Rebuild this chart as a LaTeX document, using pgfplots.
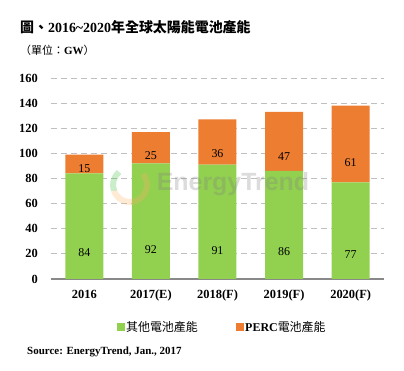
\documentclass[border=0pt]{standalone}
\usepackage{fontspec}
\usepackage{pgfplots}
\usepackage{pgfplotstable}
\pgfplotsset{compat=1.18}
\setmainfont{Liberation Serif}
\setsansfont{Liberation Sans}
\newfontfamily\cjk{Noto Sans CJK TC}
\definecolor{cgreen}{HTML}{92D050}
\definecolor{corange}{HTML}{ED7D31}
\definecolor{cgrid}{HTML}{BFBFBF}
\definecolor{caxis}{HTML}{898989}
\pgfplotstableread{
x g o
0 84 15
1 92 25
2 91 36
3 86 47
4 77 61
}\data
\begin{document}
\begin{tikzpicture}
\useasboundingbox (-51bp,-92bp) rectangle (353bp,279bp);
\begin{axis}[
  at={(0,0)}, anchor=south west,
  scale only axis, width=333bp, height=201bp,
  xmin=-0.5, xmax=4.5, ymin=0, ymax=160,
  ybar stacked, bar width=38bp,
  axis x line*=bottom, axis y line*=left,
  x axis line style={draw=caxis, line width=2bp},
  y axis line style={draw=none},
  major tick length=0pt,
  xtick={0,1,2,3,4},
  xticklabels={2016,2017(E),2018(F),2019(F),2020(F)},
  ytick={0,20,...,160},
  ymajorgrids,
  grid style={cgrid, dash pattern=on 6bp off 4bp, line width=0.8bp},
  /pgf/number format/assume math mode=true,
  tick label style={font=\bfseries\fontsize{12.5}{14}\selectfont, text=black},
  yticklabel style={anchor=east, inner sep=0pt, xshift=-13bp},
  xticklabel style={anchor=north, inner sep=0pt, yshift=-11bp},
  legend style={at={(0.514,-0.239)}, anchor=center, draw=none, fill=none,
    legend columns=2, font=\fontsize{12}{14}\selectfont,
    /tikz/every even column/.append style={column sep=36bp}},
  point meta=explicit,
]
\addplot[fill=cgreen, draw=none, forget plot,
  visualization depends on={\thisrow{g}\as\myv},
  nodes near coords,
  every node near coord/.append style={anchor=center, yshift={-\myv*0.3135bp}, font=\fontsize{12}{14}\selectfont, text=black}]
  table[x=x, y=g, meta=g]{\data};
\addplot[fill=corange, draw=none, forget plot,
  visualization depends on={\thisrow{o}\as\myv},
  nodes near coords,
  every node near coord/.append style={anchor=center, yshift={-\myv*0.3135bp}, font=\fontsize{12}{14}\selectfont, text=black}]
  table[x=x, y=o, meta=o]{\data};
\addlegendimage{legend image code/.code={\fill[cgreen] (0bp,-3.5bp) rectangle (7bp,3.5bp);}}
\addlegendentry{{\cjk 其他電池產能}}
\addlegendimage{legend image code/.code={\fill[corange] (0bp,-3.5bp) rectangle (7bp,3.5bp);}}
\addlegendentry{\textbf{PERC}{\cjk 電池產能}}
\end{axis}
% watermark
\begin{scope}[opacity=0.28]
\draw[line width=6bp, orange!60] (79bp,94bp) ++(200:17bp) arc (200:400:17bp);
\draw[line width=6bp, green!50!gray] (79bp,94bp) ++(200:17bp) arc (200:130:17bp);
\node[anchor=center, inner sep=0pt, text=gray, font=\sffamily\bfseries\fontsize{25}{28}\selectfont] at (182bp,95bp) {EnergyTrend};
\end{scope}
% titles
\node[anchor=west, inner sep=0pt] at (-31bp,252bp) {{\cjk\bfseries\fontsize{14}{16}\selectfont 圖、}{\bfseries\fontsize{14}{16}\selectfont 2016\textasciitilde 2020}{\cjk\bfseries\fontsize{14}{16}\selectfont 年全球太陽能電池產能}};
\node[anchor=west, inner sep=0pt] at (-31bp,229bp) {{\cjk\fontsize{11}{13}\selectfont （單位：}{\bfseries\fontsize{11}{13}\selectfont GW}{\cjk\fontsize{11}{13}\selectfont ）}};
\node[anchor=base west, inner sep=0pt, font=\bfseries\fontsize{11}{13}\selectfont] at (-24bp,-75bp) {Source: EnergyTrend, Jan., 2017};
\end{tikzpicture}
\end{document}
